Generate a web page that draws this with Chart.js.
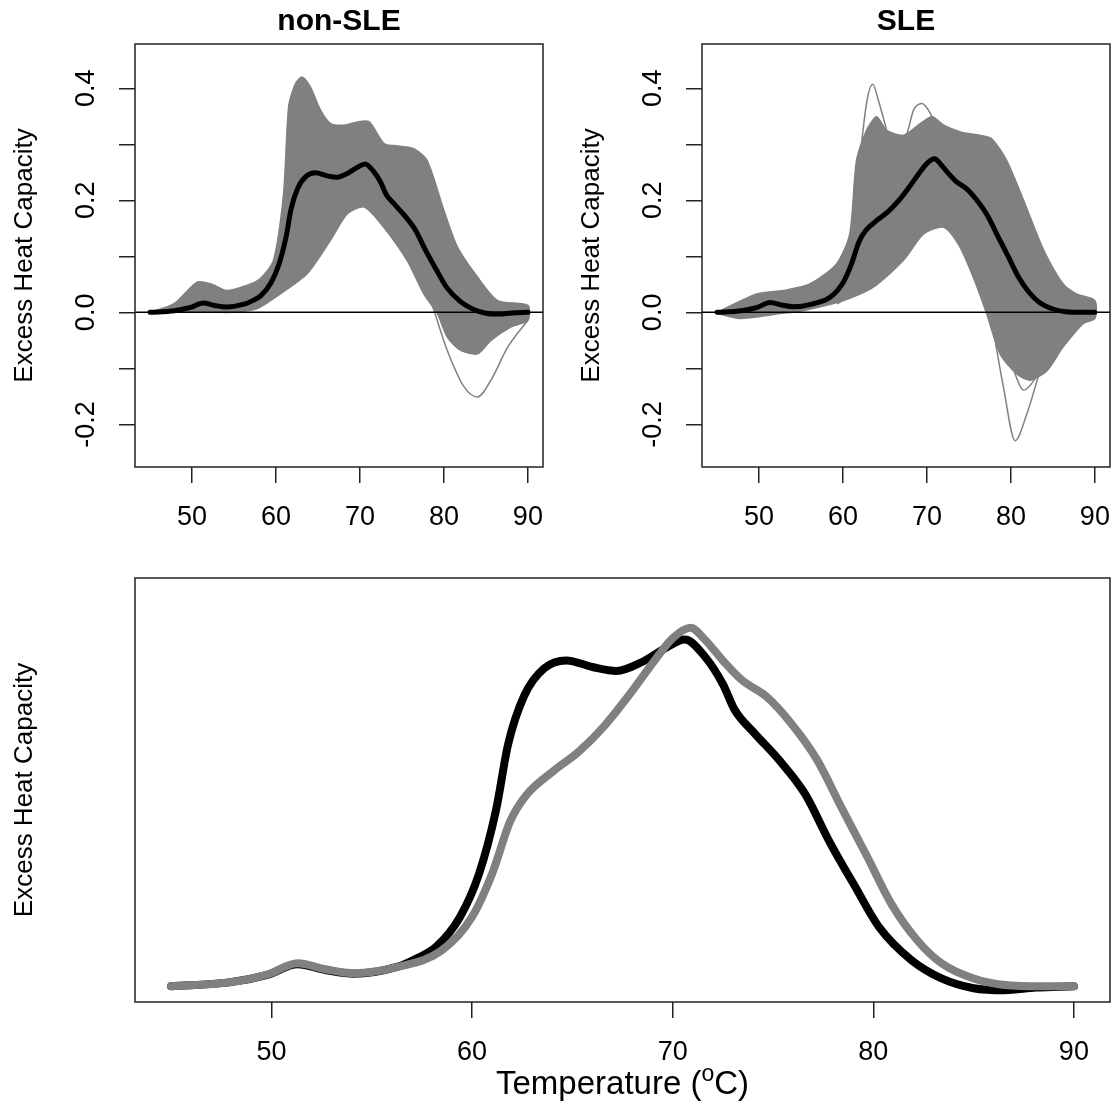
<!DOCTYPE html>
<html>
<head>
<meta charset="utf-8">
<script src="https://cdn.jsdelivr.net/npm/chart.js@4.4.1/dist/chart.umd.min.js"></script>
<style>
  html, body { margin: 0; padding: 0; background: #fff; }
  #wrap { position: relative; width: 1115px; height: 1105px; }
  canvas { position: absolute; }
</style>
</head>
<body>
<div id="wrap">
  <canvas id="nonSleChart" width="557" height="540" style="left:0;top:0"></canvas>
  <canvas id="sleChart" width="558" height="540" style="left:557px;top:0"></canvas>
  <canvas id="bothChart" width="1115" height="565" style="left:0;top:540px"></canvas>
</div>
<script>
const FONT = '"Liberation Sans", Arial, sans-serif';
const GRAY = '#808080';

// axes
const xTicks = [50, 60, 70, 80, 90];
const yTicks = [-0.2, -0.1, 0, 0.1, 0.2, 0.3, 0.4];
const yTickLabels = ['-0.2', '', '0.0', '', '0.2', '', '0.4'];

// non-SLE mean curve
const nonSleMeanT = [45, 47.9, 49.8, 51.3, 52.7, 54.1, 56.3, 57.2, 58.2, 59.4, 60.35, 61.2, 61.8, 62.6, 63.6, 64.7, 66.0, 67.2, 68.5, 69.7, 70.6, 71.6, 72.5, 73.1, 74.1, 75.3, 76.6, 77.8, 79.1, 80.3, 81.9, 83.4, 85.0, 86.55, 88.1, 90];
const nonSleMeanV = [0, 0.003, 0.0088, 0.0168, 0.0124, 0.0096, 0.015, 0.021, 0.030, 0.053, 0.086, 0.135, 0.185, 0.222, 0.243, 0.249, 0.244, 0.241, 0.248, 0.259, 0.265, 0.252, 0.231, 0.211, 0.193, 0.173, 0.147, 0.111, 0.076, 0.045, 0.020, 0.006, -0.0015, -0.003, -0.001, 0];

// SLE mean curve
const sleMeanT = [45, 47.9, 49.8, 51.3, 52.7, 54.1, 56.3, 58.5, 60.0, 61.0, 61.9, 62.7, 64.1, 65.3, 66.6, 67.8, 69.1, 70.0, 70.9, 71.6, 72.5, 73.45, 74.7, 75.9, 77.2, 78.4, 79.7, 80.9, 82.2, 83.4, 85.0, 86.55, 88.4, 90];
const sleMeanV = [0, 0.003, 0.009, 0.0176, 0.013, 0.010, 0.0148, 0.0275, 0.053, 0.086, 0.126, 0.146, 0.165, 0.179, 0.199, 0.222, 0.249, 0.266, 0.274, 0.265, 0.249, 0.234, 0.221, 0.201, 0.173, 0.137, 0.099, 0.063, 0.035, 0.0176, 0.006, 0.001, 0, 0];

// non-SLE spread of individual curves
const nonSleUpperT = [45, 47.8, 50.6, 52.2, 54.1, 56.5, 58.1, 59.7, 60.9, 61.5, 62.3, 63.1, 64.1, 65.3, 66.5, 68.1, 69.7, 71.1, 72.9, 74.5, 76.4, 78.0, 80.0, 81.6, 84.0, 86.4, 90];
const nonSleUpperV = [0, 0.015, 0.054, 0.051, 0.039, 0.048, 0.060, 0.093, 0.212, 0.367, 0.408, 0.420, 0.402, 0.361, 0.337, 0.334, 0.340, 0.340, 0.301, 0.297, 0.292, 0.271, 0.182, 0.117, 0.063, 0.021, 0.0125];
const nonSleLowerT = [45, 50.6, 54.5, 57.7, 60.5, 63.7, 66.5, 68.5, 70.5, 72.5, 75.6, 77.6, 79.2, 80.4, 82.0, 84.0, 85.6, 88.0, 90];
const nonSleLowerV = [0, 0.002, 0, 0.0065, 0.033, 0.069, 0.129, 0.176, 0.188, 0.158, 0.093, 0.033, -0.002, -0.044, -0.068, -0.074, -0.050, -0.026, -0.014];
const nonSleDipT = [75.0, 76.4, 78.4, 80.4, 82.4, 84.0, 85.6, 87.6, 90];
const nonSleDipV = [0.125, 0.093, 0.021, -0.068, -0.133, -0.151, -0.121, -0.062, -0.014];

// SLE spread of individual curves
const sleUpperT = [45, 49.7, 52.9, 56.1, 59.25, 60.8, 61.6, 62.8, 64.0, 65.2, 67.2, 69.2, 70.6, 72.0, 74.0, 76.3, 77.7, 79.5, 81.5, 83.9, 86.2, 87.8, 90];
const sleUpperV = [0, 0.033, 0.039, 0.051, 0.087, 0.140, 0.271, 0.325, 0.349, 0.325, 0.316, 0.337, 0.349, 0.334, 0.322, 0.316, 0.310, 0.271, 0.200, 0.111, 0.051, 0.033, 0.021];
const sleLowerT = [45, 47.7, 52.5, 54.9, 60.05, 63.6, 67.2, 69.6, 72.0, 73.8, 75.5, 77.1, 78.7, 80.7, 82.3, 84.3, 86.2, 88.6, 90];
const sleLowerV = [-0.002, -0.011, -0.002, 0.002, 0.021, 0.045, 0.093, 0.140, 0.152, 0.120, 0.063, -0.002, -0.074, -0.110, -0.121, -0.104, -0.062, -0.020, -0.011];
const sleSpikeT = [60.8, 61.8, 62.8, 63.55, 64.2, 65.2];
const sleSpikeV = [0.081, 0.242, 0.373, 0.407, 0.379, 0.325];
const sleSpike2T = [66.8, 67.6, 68.4, 69.4, 70.4, 71.4];
const sleSpike2V = [0.310, 0.319, 0.361, 0.373, 0.355, 0.319];
const sleDipT = [59.3, 64.0, 67.6, 70.0, 72.0, 74.3, 76.3, 77.5, 79.1, 80.5, 81.9, 83.9, 86.2, 90];
const sleDipV = [0.015, 0.063, 0.140, 0.197, 0.176, 0.129, 0.063, -0.002, -0.133, -0.229, -0.181, -0.086, -0.026, -0.008];
const sleDip2T = [77.5, 79.0, 80.5, 81.5, 82.8, 84.5, 86.5, 90];
const sleDip2V = [0.050, -0.040, -0.110, -0.139, -0.120, -0.070, -0.030, -0.010];

function toPoints(t, v) {
  return t.map((x, i) => ({ x: x, y: v[i] }));
}

function bandShape(upT, upV, loT, loV) {
  return toPoints(upT, upV).concat(toPoints(loT, loV).reverse());
}

// box, titles, rotated y labels
const panelText = {
  id: 'panelText',
  afterDraw(chart, args, opts) {
    const ctx = chart.ctx;
    const a = chart.chartArea;
    ctx.save();
    ctx.strokeStyle = '#222';
    ctx.lineWidth = 1.5;
    ctx.strokeRect(a.left, a.top, a.right - a.left, a.bottom - a.top);
    ctx.fillStyle = '#000';
    ctx.textAlign = 'center';
    ctx.textBaseline = 'middle';

    if (opts.title) {
      ctx.font = `bold 30px ${FONT}`;
      ctx.fillText(opts.title, (a.left + a.right) / 2, 22);
    }
    if (opts.yTitle) {
      ctx.save();
      ctx.translate(a.left - 110, (a.top + a.bottom) / 2);
      ctx.rotate(-Math.PI / 2);
      ctx.font = `26px ${FONT}`;
      ctx.fillText(opts.yTitle, 0, 0);
      ctx.restore();
    }
    if (opts.yLabels) {
      const yScale = chart.scales.y;
      ctx.font = `27px ${FONT}`;
      yTicks.forEach((v, i) => {
        if (!yTickLabels[i]) return;
        ctx.save();
        ctx.translate(a.left - 48, yScale.getPixelForValue(v));
        ctx.rotate(-Math.PI / 2);
        ctx.fillText(yTickLabels[i], 0, 0);
        ctx.restore();
      });
    }
    if (opts.xTitle) {
      const big = `33px ${FONT}`;
      const small = `23px ${FONT}`;
      ctx.textAlign = 'left';
      ctx.textBaseline = 'alphabetic';
      ctx.font = big;
      const w1 = ctx.measureText('Temperature (').width;
      const w3 = ctx.measureText('C)').width;
      ctx.font = small;
      const w2 = ctx.measureText('o').width;
      let x = (a.left + a.right) / 2 - (w1 + w2 + w3) / 2;
      const base = 554;
      ctx.font = big;
      ctx.fillText('Temperature (', x, base);
      x += w1;
      ctx.font = small;
      ctx.fillText('o', x, base - 13);
      x += w2;
      ctx.font = big;
      ctx.fillText('C)', x, base);
    }
    ctx.restore();
  },
};

// horizontal reference line at zero, drawn just before the mean curve
const zeroLine = {
  id: 'zeroLine',
  beforeDatasetDraw(chart, args, opts) {
    if (!opts.show || args.index !== 0) return;
    const ctx = chart.ctx;
    const a = chart.chartArea;
    const y0 = chart.scales.y.getPixelForValue(0);
    ctx.save();
    ctx.strokeStyle = '#000';
    ctx.lineWidth = 1.5;
    ctx.beginPath();
    ctx.moveTo(a.left, y0);
    ctx.lineTo(a.right, y0);
    ctx.stroke();
    ctx.restore();
  },
};

function xScale(height) {
  return {
    type: 'linear',
    min: 43.2,
    max: 91.8,
    afterBuildTicks: (s) => { s.ticks = xTicks.map((v) => ({ value: v })); },
    afterFit: (s) => {
      s.height = height;
      s.paddingLeft = 0;
      s.paddingRight = 0;
    },
    grid: { drawOnChartArea: false, drawTicks: true, tickLength: 16, color: '#222', lineWidth: 1.5 },
    border: { display: false },
    ticks: {
      color: '#000',
      font: { family: FONT, size: 27 },
      padding: 18,
      maxRotation: 0,
      autoSkip: false,
      callback: (v) => String(v),
    },
  };
}

function grayLine(t, v) {
  return {
    data: toPoints(t, v),
    borderColor: GRAY,
    borderWidth: 1.5,
    pointRadius: 0,
    fill: false,
    cubicInterpolationMode: 'monotone',
  };
}

function topPanel(canvas, title, yWidth, rightPad, mean, band, extras) {
  return new Chart(canvas, {
    type: 'line',
    data: {
      datasets: [
        {
          data: mean,
          borderColor: '#000',
          borderWidth: 5,
          pointRadius: 0,
          fill: false,
          cubicInterpolationMode: 'monotone',
          borderCapStyle: 'round',
          borderJoinStyle: 'round',
        },
        ...extras,
        {
          data: band,
          borderColor: GRAY,
          backgroundColor: GRAY,
          borderWidth: 1.5,
          pointRadius: 0,
          fill: 'shape',
          tension: 0.25,
        },
      ],
    },
    options: {
      responsive: false,
      animation: false,
      devicePixelRatio: 1,
      events: [],
      layout: { padding: { top: 44, right: rightPad, bottom: 0, left: 0 } },
      scales: {
        x: xScale(73),
        y: {
          type: 'linear',
          min: -0.276,
          max: 0.479,
          afterBuildTicks: (s) => { s.ticks = yTicks.map((v) => ({ value: v })); },
          afterFit: (s) => {
            s.width = yWidth;
            s.paddingTop = 0;
            s.paddingBottom = 0;
          },
          grid: { drawOnChartArea: false, drawTicks: true, tickLength: 16, color: '#222', lineWidth: 1.5 },
          border: { display: false },
          ticks: { display: false },
        },
      },
      plugins: {
        legend: { display: false },
        tooltip: { enabled: false },
        panelText: { title: title, yTitle: 'Excess Heat Capacity', yLabels: true },
        zeroLine: { show: true },
      },
    },
    plugins: [zeroLine, panelText],
  });
}

topPanel(
  document.getElementById('nonSleChart'), 'non-SLE', 135, 14,
  toPoints(nonSleMeanT, nonSleMeanV),
  bandShape(nonSleUpperT, nonSleUpperV, nonSleLowerT, nonSleLowerV),
  [grayLine(nonSleDipT, nonSleDipV)]
);

topPanel(
  document.getElementById('sleChart'), 'SLE', 145, 5,
  toPoints(sleMeanT, sleMeanV),
  bandShape(sleUpperT, sleUpperV, sleLowerT, sleLowerV),
  [grayLine(sleSpikeT, sleSpikeV), grayLine(sleSpike2T, sleSpike2V), grayLine(sleDipT, sleDipV), grayLine(sleDip2T, sleDip2V)]
);

new Chart(document.getElementById('bothChart'), {
  type: 'line',
  data: {
    datasets: [
      {
        label: 'SLE',
        data: toPoints(sleMeanT, sleMeanV),
        borderColor: GRAY,
        borderWidth: 8,
        pointRadius: 0,
        fill: false,
        cubicInterpolationMode: 'monotone',
        borderCapStyle: 'round',
        borderJoinStyle: 'round',
      },
      {
        label: 'non-SLE',
        data: toPoints(nonSleMeanT, nonSleMeanV),
        borderColor: '#000',
        borderWidth: 8,
        pointRadius: 0,
        fill: false,
        cubicInterpolationMode: 'monotone',
        borderCapStyle: 'round',
        borderJoinStyle: 'round',
      },
    ],
  },
  options: {
    responsive: false,
    animation: false,
    devicePixelRatio: 1,
    events: [],
    layout: { padding: { top: 38, right: 5, bottom: 0, left: 135 } },
    scales: {
      x: xScale(103),
      y: { type: 'linear', min: -0.012, max: 0.312, display: false },
    },
    plugins: {
      legend: { display: false },
      tooltip: { enabled: false },
      panelText: { yTitle: 'Excess Heat Capacity', xTitle: true },
    },
  },
  plugins: [panelText],
});
</script>
</body>
</html>
